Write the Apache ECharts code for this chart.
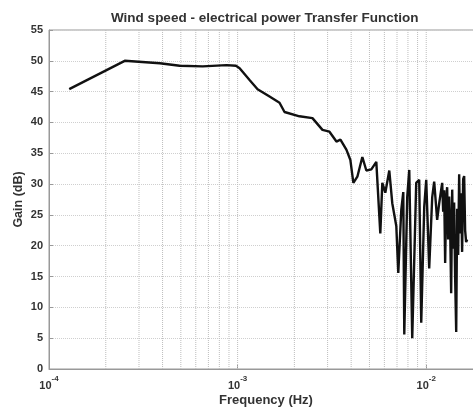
<!DOCTYPE html>
<html>
<head>
<meta charset="utf-8">
<script src="https://cdn.jsdelivr.net/npm/echarts@6/dist/echarts.min.js"></script>
<style>html,body{margin:0;padding:0;background:#fff;}#c{width:473px;height:411px;}</style>
</head>
<body>
<div id="c"></div>
<script>
const titleText = 'Wind speed - electrical power Transfer Function';
const xName = 'Frequency (Hz)';
const yName = 'Gain (dB)';

const freqHz = [
  1.28e-4, 2.52e-4, 3.87e-4, 4.93e-4, 6.53e-4, 8.74e-4, 9.8e-4, 1.025e-3, 1.157e-3, 1.276e-3,
  1.477e-3, 1.668e-3, 1.773e-3, 2.128e-3, 2.493e-3, 2.818e-3, 3.069e-3, 3.342e-3, 3.508e-3, 3.773e-3,
  3.962e-3, 4.109e-3, 4.314e-3, 4.585e-3, 4.814e-3, 5.117e-3, 5.437e-3, 5.709e-3, 5.850e-3, 6.068e-3,
  6.371e-3, 6.607e-3, 6.94e-3, 7.11e-3, 7.375e-3, 7.557e-3, 7.65e-3, 7.93e-3, 8.13e-3, 8.43e-3,
  8.85e-3, 9.18e-3, 9.41e-3, 9.76e-3, 1.0e-2, 1.037e-2, 1.076e-2, 1.102e-2, 1.143e-2, 1.172e-2,
  1.215e-2, 1.230e-2, 1.245e-2, 1.26e-2, 1.276e-2, 1.291e-2, 1.307e-2, 1.323e-2, 1.339e-2, 1.356e-2,
  1.373e-2, 1.389e-2, 1.406e-2, 1.423e-2, 1.442e-2, 1.459e-2, 1.477e-2, 1.495e-2, 1.513e-2, 1.532e-2,
  1.55e-2, 1.570e-2, 1.589e-2, 1.608e-2, 1.628e-2, 1.648e-2
];
const gainDb = [
  45.4, 50.0, 49.6, 49.2, 49.1, 49.3, 49.2, 48.8, 46.9, 45.4,
  44.2, 43.2, 41.7, 41.0, 40.7, 38.8, 38.5, 36.9, 37.2, 35.6,
  33.9, 30.2, 31.2, 34.4, 32.2, 32.4, 33.6, 22.0, 30.2, 28.6,
  32.2, 26.9, 23.2, 15.6, 25.8, 28.7, 5.6, 27.9, 32.3, 5.0,
  30.2, 30.7, 7.5, 26.3, 30.7, 16.3, 27.9, 30.4, 24.2, 26.9,
  30.2, 25.5, 29.0, 17.2, 27.5, 29.5, 21.0, 28.0, 23.0, 12.3,
  29.1, 19.5, 27.0, 15.0, 6.0, 26.0, 18.5, 31.6, 22.0, 28.5,
  19.0, 30.8, 31.3, 22.5, 20.6, 21.0
];
const gridFreqs = [2e-4, 3e-4, 4e-4, 5e-4, 6e-4, 7e-4, 8e-4, 9e-4, 1e-3,
                   2e-3, 3e-3, 4e-3, 5e-3, 6e-3, 7e-3, 8e-3, 9e-3, 1e-2];
const yMin = 0, yMax = 55;

// vertical grid lines as a broken line series, placed through the axes
const gridLineData = [];
gridFreqs.forEach(f => { gridLineData.push([f, yMin], [f, yMax], [f, '-']); });

const FONT = "'Liberation Sans', Arial, sans-serif";
const chart = echarts.init(document.getElementById('c'), null, {renderer: 'canvas'});
chart.setOption({
  animation: false,
  backgroundColor: '#fff',
  title: {
    text: titleText, left: 106, top: 6,
    textStyle: {fontFamily: FONT, fontSize: 13.5, fontWeight: 'bold', color: '#333'}
  },
  grid: {left: 49, right: -10, top: 30, bottom: 42, show: true, borderColor: '#999', borderWidth: 1,
         containLabel: false, outerBoundsMode: 'none'},
  xAxis: {
    type: 'log', logBase: 10, min: 1e-4, max: 0.02,
    name: xName, nameLocation: 'middle', nameGap: 25, nameMoveOverlap: false,
    nameTextStyle: {fontFamily: FONT, fontSize: 13, fontWeight: 'bold', color: '#333'},
    axisLine: {show: true, lineStyle: {color: '#999'}},
    axisTick: {show: true, inside: true, length: 4, lineStyle: {color: '#999'}},
    splitLine: {show: false},
    axisLabel: {
      margin: 6,
      formatter: function (v) {
        const e = Math.log10(v);
        if (Math.abs(e - Math.round(e)) > 1e-6) return '';
        return '{a|10}{s|' + Math.round(e) + '}';
      },
      rich: {
        a: {fontFamily: FONT, fontSize: 11, fontWeight: 'bold', color: '#333', verticalAlign: 'bottom', lineHeight: 16},
        s: {fontFamily: FONT, fontSize: 8, fontWeight: 'bold', color: '#333', verticalAlign: 'top', lineHeight: 16}
      }
    }
  },
  yAxis: {
    type: 'value', min: yMin, max: yMax, interval: 5,
    name: yName, nameLocation: 'middle', nameGap: 24, nameMoveOverlap: false,
    nameTextStyle: {fontFamily: FONT, fontSize: 12.5, fontWeight: 'bold', color: '#333'},
    axisLine: {show: true, lineStyle: {color: '#999'}},
    axisTick: {show: true, inside: true, length: 4, lineStyle: {color: '#999'}},
    axisLabel: {margin: 6, fontFamily: FONT, fontSize: 11, fontWeight: 'bold', color: '#333'},
    splitLine: {show: true, lineStyle: {color: '#cfcfcf', type: 'dotted', width: 1}}
  },
  series: [
    {
      type: 'line', z: 1, showSymbol: false, silent: true, connectNulls: false,
      data: gridLineData,
      lineStyle: {color: '#bdbdbd', type: 'dotted', width: 1}
    },
    {
      type: 'line', z: 10, showSymbol: false, silent: true,
      data: freqHz.map((f, i) => [f, gainDb[i]]),
      lineStyle: {color: '#111', width: 2.4}
    }
  ]
});
</script>
</body>
</html>
